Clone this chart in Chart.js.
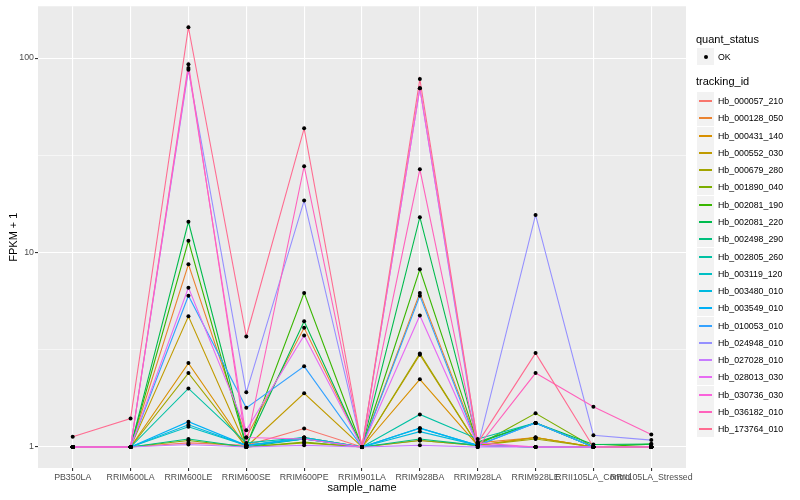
<!DOCTYPE html>
<html>
<head>
<meta charset="utf-8">
<script src="https://cdn.jsdelivr.net/npm/chart.js@4"></script>
<style>
  html, body { margin: 0; padding: 0; background: #ffffff; }
  #wrap { position: relative; width: 800px; height: 500px; font-family: "Liberation Sans", Arial, Helvetica, sans-serif; }
  #c { position: absolute; left: 0; top: 0; }
  #legend { position: absolute; left: 696px; top: 0; width: 104px; height: 500px; color: #000; }
  .ltitle { position: absolute; left: 0; font-size: 11px; line-height: 13px; white-space: nowrap; }
  .lkey { position: absolute; left: 1px; width: 17px; height: 17px; background: #F2F2F2; }
  .lline { position: absolute; left: 2px; top: 7.5px; width: 13px; height: 2px; }
  .ldot { position: absolute; left: 6.5px; top: 6.5px; width: 4px; height: 4px; border-radius: 2px; background: #000; }
  .ltext { position: absolute; left: 22px; font-size: 8.8px; line-height: 10px; white-space: nowrap; color: #000; }
</style>
</head>
<body>
<div id="wrap">
  <canvas id="c" width="800" height="500"></canvas>
  <div id="legend"></div>
</div>
<script>
// ---- data ----
const sampleNames = ["PB350LA", "RRIM600LA", "RRIM600LE", "RRIM600SE", "RRIM600PE", "RRIM901LA",
                     "RRIM928BA", "RRIM928LA", "RRIM928LE", "RRII105LA_Control", "RRII105LA_Stressed"];
const trackingIds = ["Hb_000057_210", "Hb_000128_050", "Hb_000431_140", "Hb_000552_030", "Hb_000679_280",
                     "Hb_001890_040", "Hb_002081_190", "Hb_002081_220", "Hb_002498_290", "Hb_002805_260",
                     "Hb_003119_120", "Hb_003480_010", "Hb_003549_010", "Hb_010053_010", "Hb_024948_010",
                     "Hb_027028_010", "Hb_028013_030", "Hb_030736_030", "Hb_036182_010", "Hb_173764_010"];
const seriesColors = ["#F8766D", "#EA8331", "#D89000", "#C09B00", "#A3A500", "#7CAE00", "#39B600", "#00BB4E",
                      "#00BF7D", "#00C1A3", "#00BFC4", "#00BAE0", "#00B0F6", "#35A2FF", "#9590FF", "#C77CFF",
                      "#E76BF3", "#FA62DB", "#FF62BC", "#FF6C91"];
// FPKM + 1 per sample (order of sampleNames)
const hb_000057_210 = [1, 1, 1.05, 1.02, 1.245, 1, 1.08, 1.02, 1.0, 1.0, 1.0];
const hb_000128_050 = [1, 1, 8.7, 1.12, 4.1, 1, 6.2, 1.05, 1.12, 1.0, 1.0];
const hb_000431_140 = [1, 1, 2.7, 1.0, 1.12, 1, 2.23, 1.02, 1.12, 1.0, 1.0];
const hb_000552_030 = [1, 1, 4.7, 1.0, 1.89, 1, 2.98, 1.02, 1.12, 1.0, 1.0];
const hb_000679_280 = [1, 1, 2.4, 1.0, 1.05, 1, 3.03, 1.02, 1.1, 1.0, 1.0];
const hb_001890_040 = [1, 1, 1.08, 1.0, 1.06, 1, 1.08, 1.02, 1.49, 1.0, 1.0];
const hb_002081_190 = [1, 1, 11.5, 1.0, 6.2, 1, 8.2, 1.05, 1.33, 1.0, 1.035];
const hb_002081_220 = [1, 1, 14.4, 1.02, 4.43, 1, 15.2, 1.06, 1.33, 1.03, 1.035];
const hb_002498_290 = [1, 1, 1.1, 1.0, 1.1, 1, 1.1, 1.02, 1.0, 1.0, 1.0];
const hb_002805_260 = [1, 1, 2.0, 1.05, 1.12, 1, 1.47, 1.1, 1.33, 1.0, 1.0];
const hb_003119_120 = [1, 1, 1.27, 1.02, 1.1, 1, 1.25, 1.02, 1.0, 1.0, 1.0];
const hb_003480_010 = [1, 1, 1.3, 1.02, 1.12, 1, 1.2, 1.02, 1.33, 1.0, 1.0];
const hb_003549_010 = [1, 1, 1.35, 1.02, 1.1, 1, 1.25, 1.02, 1.0, 1.0, 1.0];
const hb_010053_010 = [1, 1, 6.0, 1.59, 2.6, 1, 6.0, 1.02, 1.33, 1.0, 1.0];
const hb_024948_010 = [1, 1, 87, 1.91, 18.5, 1, 70, 1.0, 15.6, 1.15, 1.085];
const hb_027028_010 = [1, 1, 1.03, 1.0, 1.02, 1, 1.02, 1.0, 1.0, 1.0, 1.0];
const hb_028013_030 = [1, 1, 6.6, 1.22, 3.75, 1, 4.75, 1.02, 1.0, 1.0, 1.0];
const hb_030736_030 = [1, 1, 89, 1.12, 1.1, 1, 70, 1.05, 1.0, 1.0, 1.0];
const hb_036182_010 = [1, 1, 93, 1.03, 27.8, 1, 26.8, 1.0, 2.4, 1.61, 1.16];
const hb_173764_010 = [1.13, 1.4, 144, 3.7, 43.5, 1, 78, 1.05, 3.04, 1.0, 1.0];
const seriesValues = [hb_000057_210, hb_000128_050, hb_000431_140, hb_000552_030, hb_000679_280,
                      hb_001890_040, hb_002081_190, hb_002081_220, hb_002498_290, hb_002805_260,
                      hb_003119_120, hb_003480_010, hb_003549_010, hb_010053_010, hb_024948_010,
                      hb_027028_010, hb_028013_030, hb_030736_030, hb_036182_010, hb_173764_010];
const yMajorTicks = [1, 10, 100];
const yMinorTicks = [Math.sqrt(10), Math.sqrt(1000)];
const quantStatus = ["OK"];

// ---- chart ----
const FONT = '"Liberation Sans", Arial, Helvetica, sans-serif';
let allVals = [];
seriesValues.forEach(a => allVals = allVals.concat(a));
const lmin = Math.log10(Math.min(...allVals)), lmax = Math.log10(Math.max(...allVals));
const ex = (lmax - lmin) * 0.05;

const datasets = [];
seriesValues.forEach((vals, i) => {
  datasets.push({
    label: trackingIds[i],
    data: vals.map((v, j) => ({x: j + 1, y: v})),
    borderColor: seriesColors[i],
    backgroundColor: seriesColors[i],
    borderWidth: 1.1,
    pointRadius: 0,
    pointHoverRadius: 0,
    tension: 0,
    fill: false,
    order: 100 - i
  });
});
seriesValues.forEach((vals, i) => {
  datasets.push({
    label: trackingIds[i] + " pts",
    data: vals.map((v, j) => ({x: j + 1, y: v})),
    showLine: false,
    pointRadius: 2,
    pointStyle: 'circle',
    pointBackgroundColor: '#000000',
    pointBorderWidth: 0,
    pointBorderColor: '#000000',
    order: 0
  });
});

const panelBg = {
  id: 'panelBg',
  beforeDraw(chart) {
    const {ctx, chartArea: a} = chart;
    ctx.save();
    ctx.fillStyle = '#EBEBEB';
    ctx.fillRect(a.left, a.top, a.right - a.left, a.bottom - a.top);
    ctx.restore();
  }
};

new Chart(document.getElementById('c'), {
  type: 'line',
  data: {datasets},
  plugins: [panelBg],
  options: {
    responsive: false,
    animation: false,
    devicePixelRatio: 1,
    layout: {padding: {left: 0, right: 114, top: 5, bottom: 0}},
    plugins: {legend: {display: false}, tooltip: {enabled: false}},
    scales: {
      x: {
        type: 'linear',
        min: 0.4, max: 11.6,
        afterFit(s) { s.height = 32; },
        afterBuildTicks(s) { s.ticks = sampleNames.map((n, i) => ({value: i + 1})); },
        ticks: {
          autoSkip: false, maxRotation: 0, minRotation: 0,
          color: '#4D4D4D', font: {family: FONT, size: 8.8}, padding: 1,
          callback: (v) => sampleNames[v - 1] || ''
        },
        grid: {color: '#FFFFFF', lineWidth: 1.1, tickColor: '#333333', tickLength: 3, drawTicks: true},
        border: {display: false},
        title: {display: true, text: 'sample_name', color: '#000000', font: {family: FONT, size: 11}, padding: {top: 0, bottom: 5}}
      },
      y: {
        type: 'logarithmic',
        min: Math.pow(10, lmin - ex), max: Math.pow(10, lmax + ex),
        afterFit(s) { s.width = 38; },
        afterBuildTicks(s) {
          s.ticks = yMajorTicks.concat(yMinorTicks).sort((a, b) => a - b).map(v => ({value: v, major: yMajorTicks.includes(v)}));
        },
        ticks: {
          color: '#4D4D4D', font: {family: FONT, size: 8.8}, padding: 1,
          callback: (v) => yMajorTicks.includes(v) ? String(v) : ''
        },
        grid: {
          color: '#FFFFFF',
          lineWidth: (c) => (c.tick && yMajorTicks.includes(c.tick.value)) ? 1.1 : 0.55,
          tickColor: (c) => (c.tick && yMajorTicks.includes(c.tick.value)) ? '#333333' : 'rgba(0,0,0,0)',
          tickLength: 3, drawTicks: true
        },
        border: {display: false},
        title: {display: true, text: 'FPKM + 1', color: '#000000', font: {family: FONT, size: 11}, padding: {top: 7, bottom: 0}}
      }
    }
  }
});

// ---- legend (HTML text) ----
const lg = document.getElementById('legend');
function add(html) { lg.insertAdjacentHTML('beforeend', html); }
add('<div class="ltitle" style="top:33px">quant_status</div>');
quantStatus.forEach((q, i) => {
  const top = Math.round(48 + i * 17.28);
  add('<div class="lkey" style="top:' + top + 'px"><div class="ldot"></div></div>');
  add('<div class="ltext" style="top:' + (top + 4) + 'px">' + q + '</div>');
});
add('<div class="ltitle" style="top:75px">tracking_id</div>');
trackingIds.forEach((id, i) => {
  const top = Math.round(92 + i * 17.28);
  add('<div class="lkey" style="top:' + top + 'px"><div class="lline" style="background-color:' + seriesColors[i] + '"></div></div>');
  add('<div class="ltext" style="top:' + (top + 4) + 'px">' + id + '</div>');
});
</script>
</body>
</html>
